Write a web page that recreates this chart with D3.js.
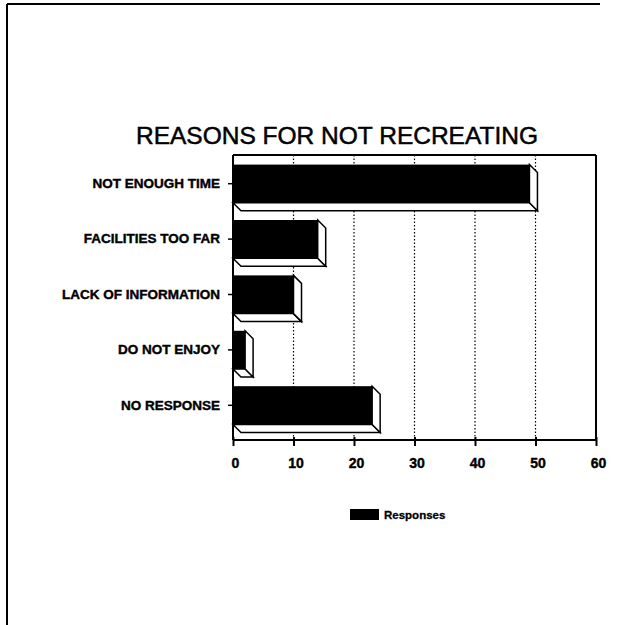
<!DOCTYPE html>
<html>
<head>
<meta charset="utf-8">
<script src="https://cdn.jsdelivr.net/npm/d3@7"></script>
<style>
  body { margin: 0; background: #fff; }
  svg { display: block; }
</style>
</head>
<body>
<script>
// chart data
var categories = ['NOT ENOUGH TIME', 'FACILITIES TOO FAR', 'LACK OF INFORMATION', 'DO NOT ENJOY', 'NO RESPONSE'];
var responses = [49, 14, 10, 2, 23];
var xTicks = [0, 10, 20, 30, 40, 50, 60];
var seriesName = 'Responses';

var width = 622, height = 625,
    plotLeft = 233, plotRight = 596, plotTop = 155, plotBottom = 440,
    depth = 8;

var svg = d3.select('body').append('svg')
            .attr('width', width).attr('height', height);

// scanned page border
svg.append('line').attr('x1', 7).attr('y1', 4).attr('x2', 7).attr('y2', height)
   .attr('stroke', '#000').attr('stroke-width', 2);
svg.append('line').attr('x1', 7).attr('y1', 4).attr('x2', 600).attr('y2', 4)
   .attr('stroke', '#000').attr('stroke-width', 2);

var x = d3.scaleLinear().domain([0, 60]).range([plotLeft, plotRight]);
var y = d3.scaleBand().domain(categories).range([156, 433])
          .paddingInner(0.31).paddingOuter(0.155);

svg.append('text')
   .attr('x', 337).attr('y', 144)
   .attr('text-anchor', 'middle')
   .attr('stroke', '#000').attr('stroke-width', 0.5)
   .style('font-family', 'Liberation Sans, Arial, sans-serif')
   .style('font-size', '24.5px')
   .text('REASONS FOR NOT RECREATING');

// dotted grid
svg.selectAll('.grid').data(xTicks.slice(1, -1)).enter().append('line')
   .attr('class', 'grid')
   .attr('x1', function(d) { return x(d); }).attr('x2', function(d) { return x(d); })
   .attr('y1', plotTop).attr('y2', plotBottom)
   .attr('stroke', '#000').attr('stroke-width', 1.2)
   .attr('stroke-dasharray', '1.5,2');

// frame top / right
svg.append('line').attr('x1', plotLeft).attr('x2', plotRight).attr('y1', plotTop).attr('y2', plotTop)
   .attr('stroke', '#000').attr('stroke-width', 2);
svg.append('line').attr('x1', plotRight).attr('x2', plotRight).attr('y1', plotTop).attr('y2', plotBottom)
   .attr('stroke', '#000').attr('stroke-width', 2);

// bars with 3D faces
var bars = svg.selectAll('.bar').data(responses).enter().append('g').attr('class', 'bar');

bars.append('path')
    .attr('d', function(d, i) {
        var x0 = x(0), x1 = x(d), y0 = y(categories[i]), y1 = y0 + y.bandwidth();
        return 'M' + x0 + ',' + y1 + 'L' + x1 + ',' + y1 + 'L' + (x1 + depth) + ',' + (y1 + depth) +
               'L' + (x0 + depth) + ',' + (y1 + depth) + 'Z';
    })
    .attr('fill', '#fff').attr('stroke', '#000').attr('stroke-width', 1.5);

bars.append('path')
    .attr('d', function(d, i) {
        var x1 = x(d), y0 = y(categories[i]), y1 = y0 + y.bandwidth();
        return 'M' + x1 + ',' + y0 + 'L' + (x1 + depth) + ',' + (y0 + depth) + 'L' + (x1 + depth) + ',' + (y1 + depth) +
               'L' + x1 + ',' + y1 + 'Z';
    })
    .attr('fill', '#fff').attr('stroke', '#000').attr('stroke-width', 1.5);

bars.append('rect')
    .attr('x', x(0))
    .attr('y', function(d, i) { return y(categories[i]); })
    .attr('width', function(d) { return x(d) - x(0); })
    .attr('height', y.bandwidth())
    .attr('fill', '#000');

// axes
var xAxis = svg.append('g').attr('transform', 'translate(0,' + plotBottom + ')')
   .call(d3.axisBottom(x).tickValues(xTicks).tickSize(6).tickPadding(12));
xAxis.select('.domain').attr('stroke-width', 2).attr('d', 'M' + plotLeft + ',0H' + plotRight);
xAxis.selectAll('.tick line').attr('stroke-width', 2).attr('y1', -3);
xAxis.selectAll('text')
     .attr('dx', 2)
     .attr('stroke', '#000').attr('stroke-width', 0.4)
     .style('font-family', 'Liberation Sans, Arial, sans-serif')
     .style('font-size', '14px').style('font-weight', 'bold');

var yAxis = svg.append('g').attr('transform', 'translate(' + plotLeft + ',0)')
   .call(d3.axisLeft(y).tickSize(5).tickPadding(8));
yAxis.select('.domain').attr('stroke-width', 2).attr('d', 'M0,' + plotTop + 'V' + plotBottom);
yAxis.selectAll('.tick line').attr('stroke-width', 1.5);
yAxis.selectAll('text')
     .attr('stroke', '#000').attr('stroke-width', 0.4)
     .style('font-family', 'Liberation Sans, Arial, sans-serif')
     .style('font-size', '13.5px').style('font-weight', 'bold');

// legend
var legend = svg.append('g').attr('transform', 'translate(350,509)');
legend.append('rect').attr('width', 29).attr('height', 11).attr('fill', '#000');
legend.append('text').attr('x', 34).attr('y', 10)
      .attr('stroke', '#000').attr('stroke-width', 0.3)
      .style('font-family', 'Liberation Sans, Arial, sans-serif')
      .style('font-size', '11.5px').style('font-weight', 'bold')
      .text(seriesName);
</script>
</body>
</html>
